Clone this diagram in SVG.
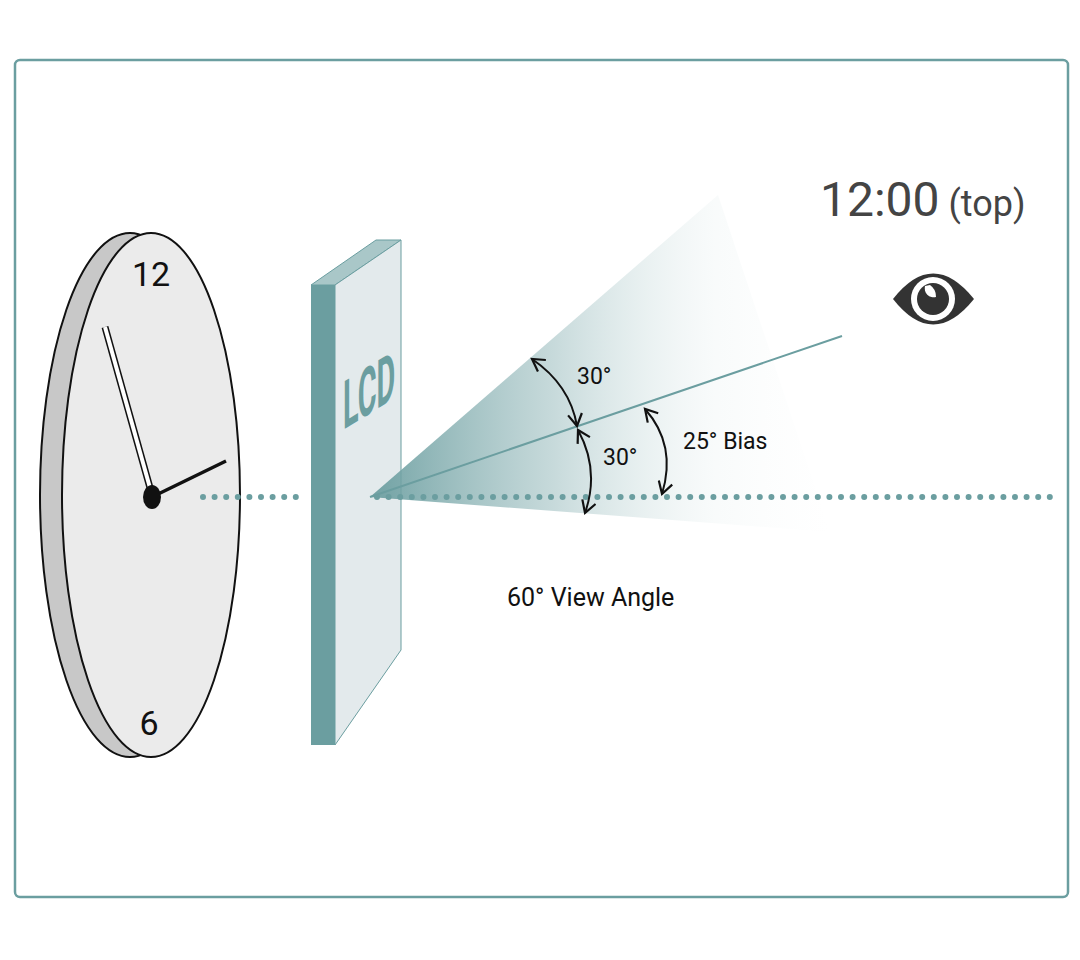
<svg xmlns="http://www.w3.org/2000/svg" width="1080" height="960" viewBox="0 0 1080 960">
<style>
.t{font-family:Roboto,"Liberation Sans",sans-serif;fill:#111}
.arc{fill:none;stroke:#111;stroke-width:2}
.dots{stroke:#6b9ea0;stroke-width:6;stroke-linecap:round;stroke-dasharray:0 11.6;fill:none}
</style>
<defs>
<linearGradient id="cone" x1="370" y1="0" x2="830" y2="0" gradientUnits="userSpaceOnUse">
<stop offset="0" stop-color="#6b9ea0" stop-opacity="0.95"/>
<stop offset="0.4" stop-color="#8fb5b7" stop-opacity="0.5"/>
<stop offset="0.75" stop-color="#d4e4e4" stop-opacity="0.15"/>
<stop offset="1" stop-color="#e8f0f0" stop-opacity="0"/>
</linearGradient>
<marker id="ah" viewBox="0 0 16 16" refX="13" refY="8" markerWidth="16" markerHeight="16" markerUnits="userSpaceOnUse" orient="auto-start-reverse">
<path d="M1,1 L13,8 L1,15" fill="none" stroke="#111" stroke-width="2.2"/>
</marker>
</defs>
<rect x="15" y="60" width="1053" height="837" rx="5" fill="#fff" stroke="#6b9ea0" stroke-width="2.5"/>
<g id="clock">
<ellipse cx="130" cy="495" rx="90" ry="262" fill="#c8c8c8" stroke="#111" stroke-width="2"/>
<ellipse cx="151" cy="495" rx="89" ry="262" fill="#ebebeb" stroke="#111" stroke-width="2"/>
<text class="t" x="151" y="286" font-size="34" text-anchor="middle">12</text>
<text class="t" x="149" y="735" font-size="34" text-anchor="middle">6</text>
<line x1="105" y1="327" x2="152" y2="495" stroke="#111" stroke-width="7"/>
<line x1="105" y1="327" x2="152" y2="495" stroke="#fff" stroke-width="4"/>
<line x1="152" y1="497" x2="226" y2="461" stroke="#111" stroke-width="3.5"/>
<ellipse cx="152" cy="497" rx="9" ry="12" fill="#111"/>
</g>
<g id="axis">
<line class="dots" x1="203" y1="497" x2="305" y2="497"/>
</g>
<g id="lcd">
<rect x="311" y="285" width="24" height="460" fill="#6b9ea0"/>
<polygon points="311,285 376,240 401,240 335,285" fill="#a9c7c8" stroke="#6b9ea0" stroke-width="1"/>
<polygon points="335,285 401,240 401,650 335,745" fill="#e3eaec" stroke="#6b9ea0" stroke-width="1"/>
<text x="0" y="0" font-family="Roboto,'Liberation Sans',sans-serif" font-weight="bold" font-size="48" fill="#6b9ea0" transform="translate(343,430) matrix(1,-0.62,0,1,0,0) scale(0.6,1.4)">LCD</text>
</g>
<g id="cone">
<polygon points="370,497 718,195 830,532" fill="url(#cone)"/>
<line x1="370" y1="497" x2="842" y2="336" stroke="#6b9ea0" stroke-width="2"/>
</g>
<g id="axis2">
<line class="dots" x1="377" y1="497" x2="1055" y2="497"/>
</g>
<g id="connectors">
<path class="arc" d="M532,359 Q570,385 577,426" marker-start="url(#ah)" marker-end="url(#ah)"/>
<path class="arc" d="M578,430 Q600,470 585,513" marker-start="url(#ah)" marker-end="url(#ah)"/>
<path class="arc" d="M645,409 Q677,445 662,494" marker-start="url(#ah)" marker-end="url(#ah)"/>
</g>
<g id="labels">
<text class="t" x="577" y="384" font-size="23">30°</text>
<text class="t" x="603" y="465" font-size="23">30°</text>
<text class="t" x="683" y="449" font-size="23">25° Bias</text>
<text class="t" x="507" y="606" font-size="25">60° View Angle</text>
<text x="820" y="216" font-family="Roboto,'Liberation Sans',sans-serif" fill="#444"><tspan font-size="48">12:00</tspan><tspan font-size="36"> (top)</tspan></text>
</g>
<g id="eye">
<path d="M893,299 Q933,248 974,299 Q933,350 893,299 Z" fill="#333"/>
<circle cx="933" cy="299" r="22" fill="#fff"/>
<circle cx="933" cy="299" r="16" fill="#333"/>
<path d="M925,286 A9,9 0 0 0 936,297 A14,14 0 0 0 930,285 Z" fill="#fff"/>
</g>
</svg>
